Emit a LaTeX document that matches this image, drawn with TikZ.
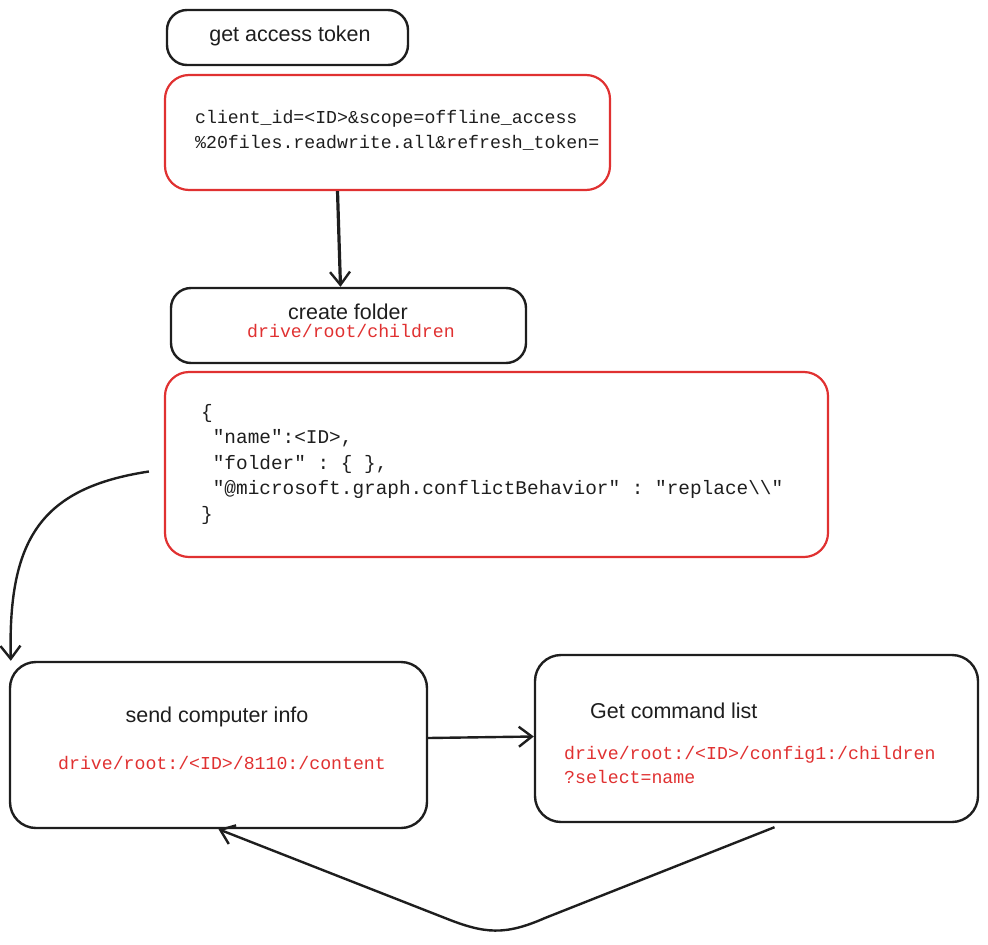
\documentclass[tikz,border=0pt]{standalone}
\usepackage{fontspec}
\setmainfont{Liberation Sans}
\setmonofont{Liberation Mono}
\usetikzlibrary{arrows.meta}
\definecolor{exred}{HTML}{E03131}
\definecolor{exblack}{HTML}{1E1E1E}
\tikzset{
  box/.style={draw=exblack, line width=2.4pt, rounded corners=20pt, inner sep=0pt},
  redbox/.style={draw=exred, line width=2.2pt, rounded corners=24pt, inner sep=0pt},
  hand/.style={font=\fontsize{21.5}{24}\selectfont, text=exblack, inner sep=0pt},
  code/.style={font=\ttfamily\fontsize{18.2}{24.5}\selectfont, text=exblack, inner sep=0pt, align=left},
  redcode/.style={code, text=exred},
  conn/.style={draw=exblack, line width=2.4pt, line join=round, -{Straight Barb[length=13pt,width=20pt,line width=2.4pt]}},
}
\begin{document}
\begin{tikzpicture}[x=1pt,y=-1pt]
\useasboundingbox (0,0) rectangle (988,945);
% boxes
\node[box, minimum width=241pt, minimum height=55pt] (b1) at (287.5,37.5) {};
\node[redbox, minimum width=445pt, minimum height=115pt] (b2) at (387.5,132.5) {};
\node[box, minimum width=355pt, minimum height=75pt] (b3) at (348.5,325.5) {};
\node[redbox, minimum width=663pt, minimum height=185pt] (b4) at (496.5,464.5) {};
\node[box, minimum width=417pt, minimum height=166pt, rounded corners=26pt] (b5) at (218.5,745) {};
\node[box, minimum width=443pt, minimum height=167pt, rounded corners=26pt] (b6) at (756.5,738.5) {};
% texts
\node[hand] (t1) at (290,36) {get access token};
\node[code, anchor=west] (t2) at (195,130.5) {client\_id=<ID>\&scope=offline\_access\\\%20files.readwrite.all\&refresh\_token=};
\node[hand] (t3) at (348,312) {create folder};
\node[redcode] (t3b) at (351,331) {drive/root/children};
\node[code, font=\ttfamily\fontsize{19.4}{25.5}\selectfont, anchor=north west] (t4) at (201,404) {\{\\~"name":<ID>,\\~"folder" : \{ \},\\~"@microsoft.graph.conflictBehavior" : "replace\textbackslash\textbackslash"\\\}};
\node[hand] (t5) at (217,717) {send computer info};
\node[redcode] (t5b) at (222,763) {drive/root:/<ID>/8110:/content};
\node[hand, anchor=west] (t6) at (590,711) {Get command list};
\node[redcode, anchor=north west] (t6b) at (564,746) {drive/root:/<ID>/config1:/children\\?select=name};
% connectors
\draw[conn, line width=3.2pt] ([xshift=-50pt]b2.south) -- ([xshift=-8pt]b3.north);
\coordinate (c1) at ([xshift=-15pt,yshift=-7pt]b4.west);
\draw[conn] (c1) .. controls (40,488) and (8,540) .. ([xshift=2pt]b5.north west);
\draw[conn] ([yshift=7pt]b5.east) -- ([yshift=2pt]b6.west);
\coordinate (c2) at ([xshift=18pt,yshift=-4pt]b6.south);
\draw[conn] (c2) -- (545,918) .. controls (505,935.5) and (485,934) .. (445,918) -- (b5.south);
\end{tikzpicture}
\end{document}
